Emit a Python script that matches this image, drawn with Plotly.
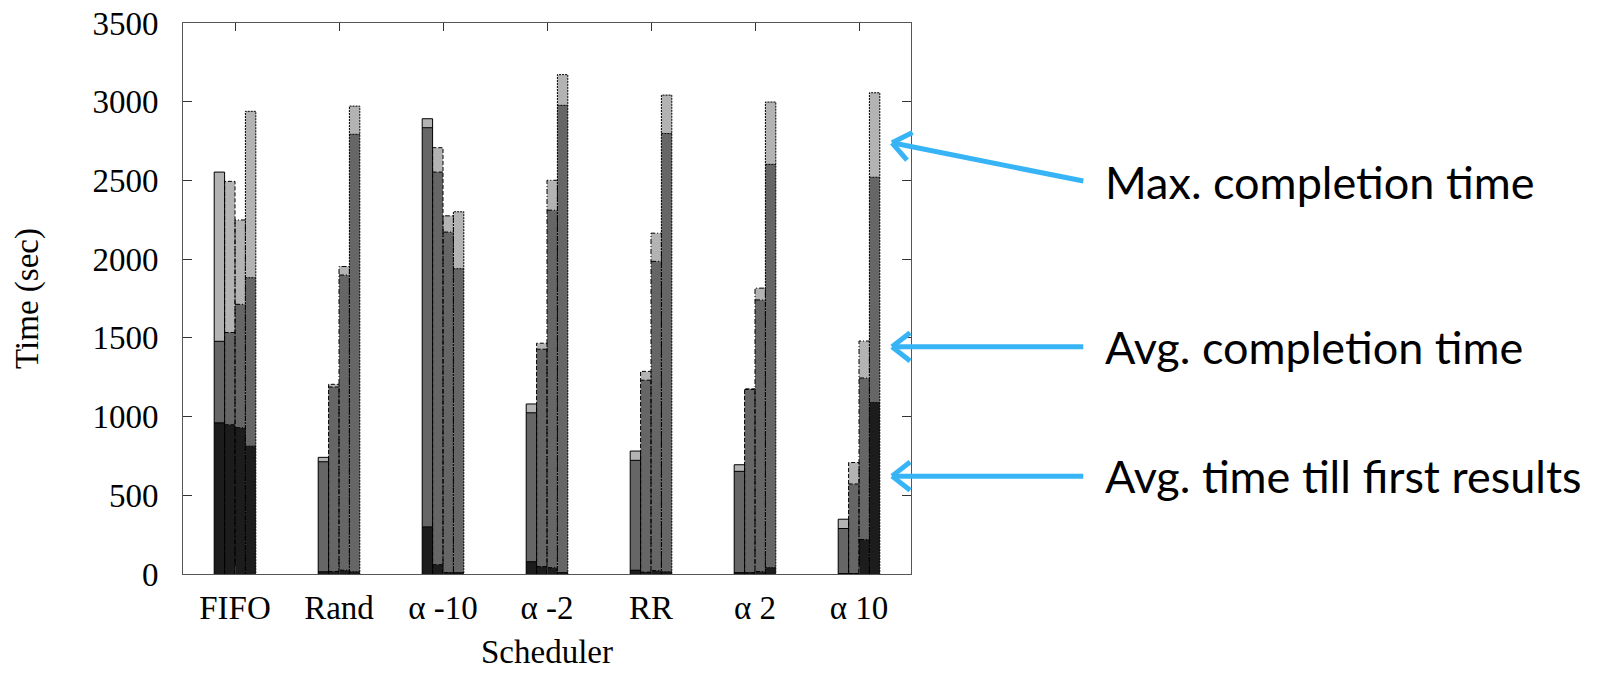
import math
import plotly.graph_objects as go

# ---------------- data ----------------
categories = ["FIFO", "Rand", "α -10", "α -2", "RR", "α 2", "α 10"]

# four bars per scheduler; values in seconds
max_completion = [
    [2553, 2494, 2249, 2939],
    [741, 1205, 1953, 2972],
    [2892, 2708, 2275, 2301],
    [1080, 1466, 2501, 3172],
    [781, 1287, 2165, 3042],
    [694, 1176, 1816, 2998],
    [348, 708, 1480, 3057],
]
avg_completion = [
    [1478, 1534, 1713, 1882],
    [713, 1188, 1899, 2793],
    [2835, 2553, 2172, 1939],
    [1024, 1428, 2311, 2977],
    [722, 1231, 1986, 2798],
    [652, 1172, 1741, 2602],
    [289, 572, 1245, 2520],
]
avg_first_result = [
    [960, 948, 929, 812],
    [14, 16, 24, 14],
    [299, 59, 9, 7],
    [78, 47, 40, 7],
    [24, 12, 21, 14],
    [7, 7, 16, 40],
    [2, 3, 219, 1089],
]

annotation_texts = ["Max. completion time", "Avg. completion time", "Avg. time till first results"]
y_ticks = [0, 500, 1000, 1500, 2000, 2500, 3000, 3500]

# ---------------- styling ----------------
BAR_W = 0.1
OFFSETS = [-0.15, -0.05, 0.05, 0.15]
DASHES = ["solid", "4px,2px", "5px,2px,1px,2px", "2px,1px"]
LAYER_COLORS = ["#b3b3b3", "#666666", "#1c1c1c"]
BLUE = "#36b4f5"
SERIF = "Liberation Serif, Times New Roman, serif"
SANS = "Lato, Carlito, Open Sans, sans-serif"

W, H = 1610, 673
# plot area in screen pixels
L_PX, R_PX, T_PX, B_PX = 182.7, 910.7, 22.7, 574.5


def px(x):
    return (x - L_PX) / (R_PX - L_PX)


def py(y):
    return (B_PX - y) / (B_PX - T_PX)


fig = go.Figure()

layers = [max_completion, avg_completion, avg_first_result]
for layer, color in zip(layers, LAYER_COLORS):
    for j in range(4):
        fig.add_trace(go.Bar(
            x=[i + OFFSETS[j] for i in range(len(categories))],
            y=[layer[i][j] for i in range(len(categories))],
            width=BAR_W,
            marker=dict(color=color, line=dict(width=0)),
            showlegend=False,
            hoverinfo="skip",
        ))

# outlines (dash style per bar position)
for j in range(4):
    xs, ys = [], []
    for i in range(len(categories)):
        x0 = i + OFFSETS[j] - BAR_W / 2
        x1 = x0 + BAR_W
        m = max_completion[i][j]
        xs += [x0, x0, x1, x1, None]
        ys += [0, m, m, 0, None]
        for v in (avg_completion[i][j], avg_first_result[i][j]):
            xs += [x0, x1, None]
            ys += [v, v, None]
    fig.add_trace(go.Scatter(
        x=xs, y=ys, mode="lines",
        line=dict(color="black", width=1, dash=DASHES[j]),
        showlegend=False, hoverinfo="skip", cliponaxis=True,
    ))

# arrows (screen-pixel geometry -> paper)
arrows = [((891.7, 142.7), (1083.0, 181.0)),
          ((891.7, 347.0), (1083.0, 347.0)),
          ((891.7, 476.5), (1083.0, 476.5))]
shapes = []
for tip, tail in arrows:
    shapes.append(dict(type="line", xref="paper", yref="paper",
                       x0=px(tip[0]), y0=py(tip[1]), x1=px(tail[0]), y1=py(tail[1]),
                       line=dict(color=BLUE, width=5)))
    ux, uy = tail[0] - tip[0], tail[1] - tip[1]
    n = math.hypot(ux, uy)
    ux, uy = ux / n, uy / n
    for s in (1, -1):
        th = math.radians(38) * s
        ax = ux * math.cos(th) - uy * math.sin(th)
        ay = ux * math.sin(th) + uy * math.cos(th)
        shapes.append(dict(type="line", xref="paper", yref="paper",
                           x0=px(tip[0]), y0=py(tip[1]),
                           x1=px(tip[0] + 23 * ax), y1=py(tip[1] + 23 * ay),
                           line=dict(color=BLUE, width=5)))

text_y = [182, 347, 476]
annotations = []
for t, yy in zip(annotation_texts, text_y):
    annotations.append(dict(text=t, xref="paper", yref="paper",
                            x=px(1103), y=py(yy), xanchor="left", yanchor="middle",
                            showarrow=False, font=dict(family=SANS, size=45, color="black")))

axis_common = dict(showline=True, linecolor="#555555", linewidth=1, mirror="ticks",
                   ticks="inside", tickcolor="#333333", showgrid=False, zeroline=False,
                   automargin=False, ticklabeloverflow="allow")

fig.update_layout(
    width=W, height=H, autosize=False,
    margin=dict(l=L_PX, r=W - R_PX, t=T_PX, b=H - B_PX, pad=0),
    paper_bgcolor="white", plot_bgcolor="white",
    barmode="overlay",
    shapes=shapes, annotations=annotations,
    xaxis=dict(range=[-0.5, len(categories) - 0.5], tickmode="array",
               tickvals=list(range(len(categories))), ticktext=categories,
               ticklen=8, ticklabelstandoff=4,
               tickfont=dict(family=SERIF, size=33, color="black"),
               title=dict(text="Scheduler", standoff=15,
                          font=dict(family=SERIF, size=33, color="black")),
               **axis_common),
    yaxis=dict(range=[0, 3500], tickmode="array", tickvals=y_ticks,
               ticklen=9, ticklabelstandoff=17,
               tickfont=dict(family=SERIF, size=33, color="black"),
               title=dict(text="Time (sec)", standoff=43,
                          font=dict(family=SERIF, size=33, color="black")),
               **axis_common),
)

fig.write_html("out.html",
               config={"displayModeBar": False},
               post_script="document.body.style.margin='0';document.body.style.overflow='hidden';")
